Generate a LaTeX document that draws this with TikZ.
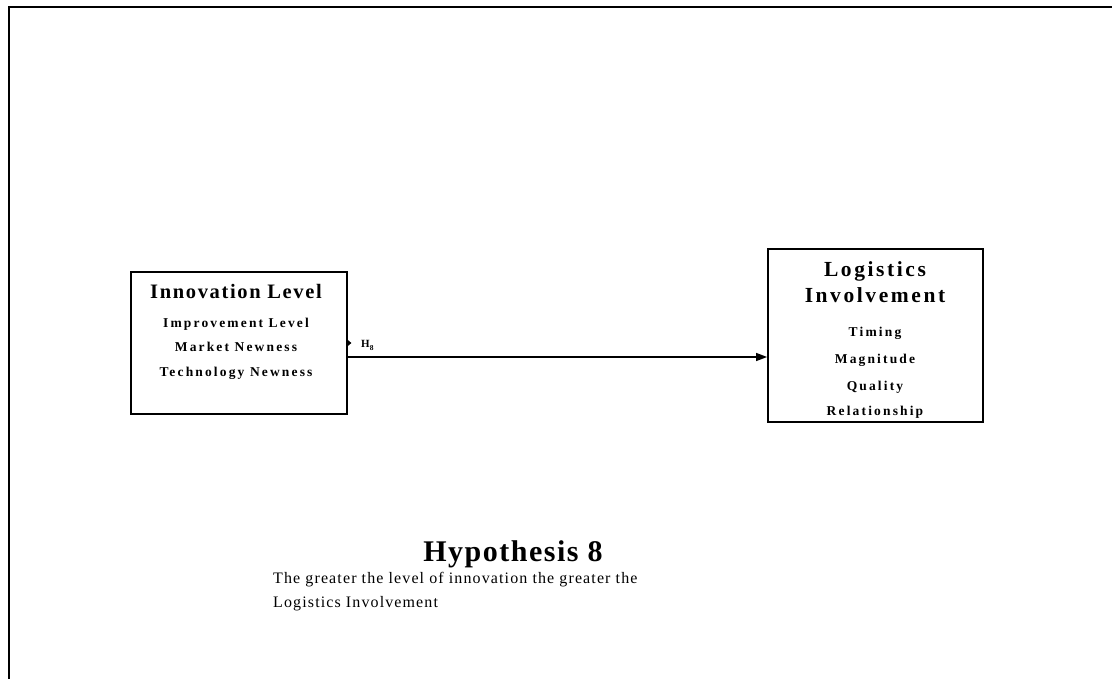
\documentclass[tikz,border=0pt]{standalone}
\usepackage{fontspec}
\setmainfont{Liberation Serif}
\usetikzlibrary{arrows.meta}
\begin{document}
\begin{tikzpicture}[x=1pt,y=-1pt,
  box/.style={draw=black,line width=1.8pt,rectangle,inner sep=0pt},
  ttl/.style={font=\fontsize{20.5}{22}\selectfont\bfseries\addfontfeature{LetterSpace=8},inner sep=0pt,anchor=base},
  ttlwide/.style={ttl,font=\fontsize{21.5}{23}\selectfont\bfseries\addfontfeature{LetterSpace=12}},
  item/.style={font=\fontsize{13.5}{15}\selectfont\bfseries\addfontfeature{LetterSpace=16},inner sep=0pt,anchor=base},
  body/.style={font=\fontsize{16}{18}\selectfont\addfontfeature{LetterSpace=7},inner sep=0pt,anchor=base west},
  link/.style={line width=1.3pt,-{Triangle[length=11pt,width=8pt]}}]
\useasboundingbox (0,0) rectangle (1112,679);
% page frame: top and left rules
\draw[line width=2pt] (9,679) -- (9,7) -- (1112,7);
% left construct
\node[box,minimum width=216pt,minimum height=142pt] (inn) at (239,343) {};
\node[ttl] (innT) at (236,299) {Innovation Level};
\node[item] (inn1) at (236,327) {Improvement Level};
\node[item] (inn2) at (236,352) {Market Newness};
\node[item] (inn3) at (236,377) {Technology Newness};
% right construct
\node[box,minimum width=215pt,minimum height=173pt] (log) at (875.5,335.5) {};
\node[ttlwide] (logT1) at (875,277) {Logistics};
\node[ttlwide] (logT2) at (875,302) {Involvement};
\node[item] (log1) at (875,337) {Timing};
\node[item] (log2) at (875,363) {Magnitude};
\node[item] (log3) at (875,390) {Quality};
\node[item] (log4) at (875,415) {Relationship};
% hypothesised path
\draw[link] (inn.east |- 0,357) -- (log.west |- 0,357);
\fill (inn.east |- 0,340) -- ++(3.5,3) -- ++(-3.5,3) -- cycle;
\node[font=\fontsize{11}{12}\selectfont\bfseries,anchor=base west,inner sep=0pt] (h8) at (361,348) {H\raisebox{-2pt}{\fontsize{7.5}{8}\selectfont 8}};
% caption
\node[font=\fontsize{30}{32}\selectfont\bfseries\addfontfeature{LetterSpace=5},anchor=base,inner sep=0pt] (hyp) at (513,561) {Hypothesis 8};
\node[body] (txt1) at (273,583) {The greater the level of innovation the greater the};
\node[body] (txt2) at (273,607) {Logistics Involvement};
\end{tikzpicture}
\end{document}
